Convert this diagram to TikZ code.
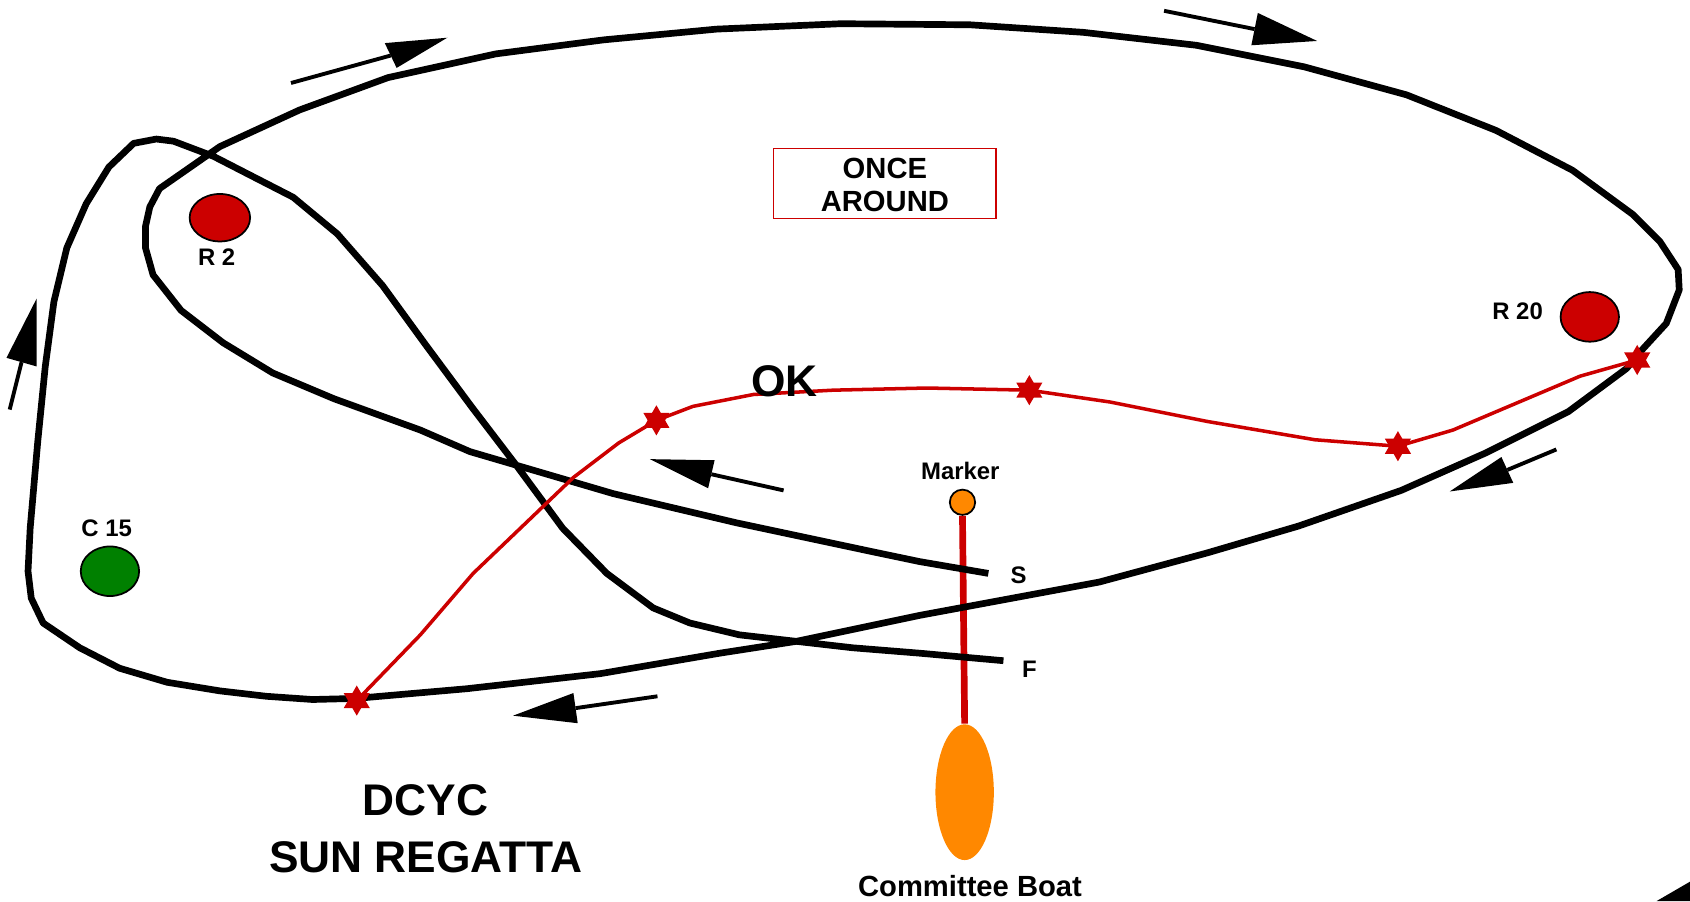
\documentclass[tikz,border=0pt]{standalone}
\usepackage{fontspec}
\setmainfont{Liberation Sans}
\usetikzlibrary{shapes.geometric,calc}
\definecolor{rred}{RGB}{204,0,0}
\definecolor{borange}{RGB}{255,136,0}
\definecolor{bgreen}{RGB}{0,128,0}
\begin{document}
\begin{tikzpicture}[x=0.010778cm, y=-0.010778cm,
  course/.style={line width=1.9pt, line join=round},
  tailline/.style={line width=1.1pt},
  route/.style={draw=rred, line width=1.0pt, line join=round},
  lbl/.style={font=\fontsize{6.8}{8}\selectfont\bfseries, inner sep=0pt},
  midtxt/.style={font=\fontsize{8.3}{10}\selectfont\bfseries, inner sep=0pt},
  bigtxt/.style={font=\fontsize{12.6}{15}\selectfont\bfseries, inner sep=0pt},
  buoy/.style={ellipse, draw=black, line width=0.5pt, inner sep=0pt, minimum width=16.6pt, minimum height=14.1pt},
  hexstar/.pic={\fill[rred] (90:14) -- (210:14) -- (330:14) -- cycle;
                \fill[rred] (270:14) -- (30:14) -- (150:14) -- cycle;}
]
\useasboundingbox (0,0) rectangle (1568,836);

% buoys
\node[buoy, fill=rred, minimum width=17.2pt, minimum height=13.5pt] (r2) at (204,202) {};
\node[lbl] (r2l) at (201,239) {R 2};
\node[buoy, fill=bgreen] (c15) at (102,530) {};
\node[lbl] (c15l) at (99,490) {C 15};
\node[buoy, fill=rred] (r20) at (1475,294) {};
\node[lbl] (r20l) at (1408,289) {R 20};

% start / finish area
\node[circle, draw=black, fill=borange, line width=0.5pt, inner sep=0pt, minimum size=7.2pt] (marker) at (893,466) {};
\node[lbl] (markerl) at (891,437) {Marker};
\node[ellipse, fill=borange, inner sep=0pt, minimum width=16.6pt, minimum height=38.6pt] (boat) at (895,735) {};
\node[midtxt] (boatl) at (900,822) {Committee Boat};
\draw[rred, line width=1.9pt] (marker.south) -- (boat.north);

% course
\draw[course] (917,532) -- (853,521) -- (810,512) -- (683,485) -- (569,458) -- (436,419) -- (390,399) -- (310,370) -- (253,346) -- (207,318) -- (168,288) -- (142,255) -- (135,230) -- (135,210) -- (139,192) -- (148,175) -- (204,136) -- (278,102) -- (360,72) -- (460,50) -- (560,37) -- (665,27) -- (780,22) -- (900,23) -- (1005,30) -- (1110,42) -- (1210,62) -- (1305,88) -- (1388,121) -- (1459,158) -- (1515,199) -- (1540,224) -- (1557,250) -- (1558,269) -- (1546,300) -- (1524,324) -- (1509,342) -- (1455,382) -- (1379,420) -- (1300,455) -- (1205,488) -- (1120,513) -- (1020,540) -- (853,571) -- (739,595) -- (668,606) -- (557,625) -- (433,639) -- (330,648) -- (290,649) -- (247,646) -- (204,641) -- (155,633) -- (111,620) -- (74,601) -- (40,578) -- (29,555) -- (26,530) -- (28,490) -- (35,410) -- (42,340) -- (50,280) -- (62,230) -- (80,189) -- (101,155) -- (124,133) -- (145,129) -- (161,131) -- (198,145) -- (272,183) -- (313,217) -- (355,265) -- (395,320) -- (438,378) -- (480,433) -- (522,490) -- (563,532) -- (606,564) -- (640,578) -- (686,589) -- (791,601) -- (853,606) -- (931,613);
\node[lbl] (sl) at (945,534) {S};
\node[lbl] (fl) at (955,621) {F};

% red route with stars
\coordinate (sa) at (331,650);
\coordinate (sb) at (609,390);
\coordinate (sc) at (955,362);
\coordinate (sd) at (1297,414);
\coordinate (se) at (1519,334);
\draw[route] (sa) -- (390,589) -- (439,532) -- (532,443) -- (574,411) -- (sb) -- (643,377) -- (699,366) -- (773,362) -- (860,360) -- (sc) -- (1030,373) -- (1120,391) -- (1220,408) -- (sd) -- (1348,399) -- (1466,349) -- (se);
\foreach \s in {sa,sb,sc,sd,se} \pic at (\s) {hexstar};

% direction arrows
\newcommand{\dirarrow}[4]{%
  \fill #2 -- #3 -- #4 -- cycle;
  \draw[tailline] #1 -- ($#3!0.5!#4$);}
\dirarrow{(9,380)}{(34,277)}{(6,332)}{(34,340)}
\dirarrow{(270,77)}{(415,35)}{(357,40)}{(368,63)}
\dirarrow{(1080,10)}{(1222,38)}{(1167,12)}{(1161,42)}
\dirarrow{(727,455)}{(603,426)}{(663,427)}{(657,453)}
\dirarrow{(1444,417)}{(1345,456)}{(1393,424)}{(1404,448)}
\dirarrow{(610,646)}{(476,664)}{(532,643)}{(536,671)}
\fill (1537,836) -- (1568,818) -- (1568,836) -- cycle;

% texts
\node[draw=rred, line width=0.35pt, minimum width=63.2pt, minimum height=19.9pt, inner sep=0pt] (box) at (821,170.5) {};
\node[midtxt] (once) at (821,156) {ONCE};
\node[midtxt] (around) at (821,187) {AROUND};
\node[bigtxt] (ok) at (728,354) {OK};
\node[bigtxt] (dcyc) at (395,742) {DCYC};
\node[bigtxt] (sun) at (395,795) {SUN REGATTA};
\end{tikzpicture}
\end{document}
